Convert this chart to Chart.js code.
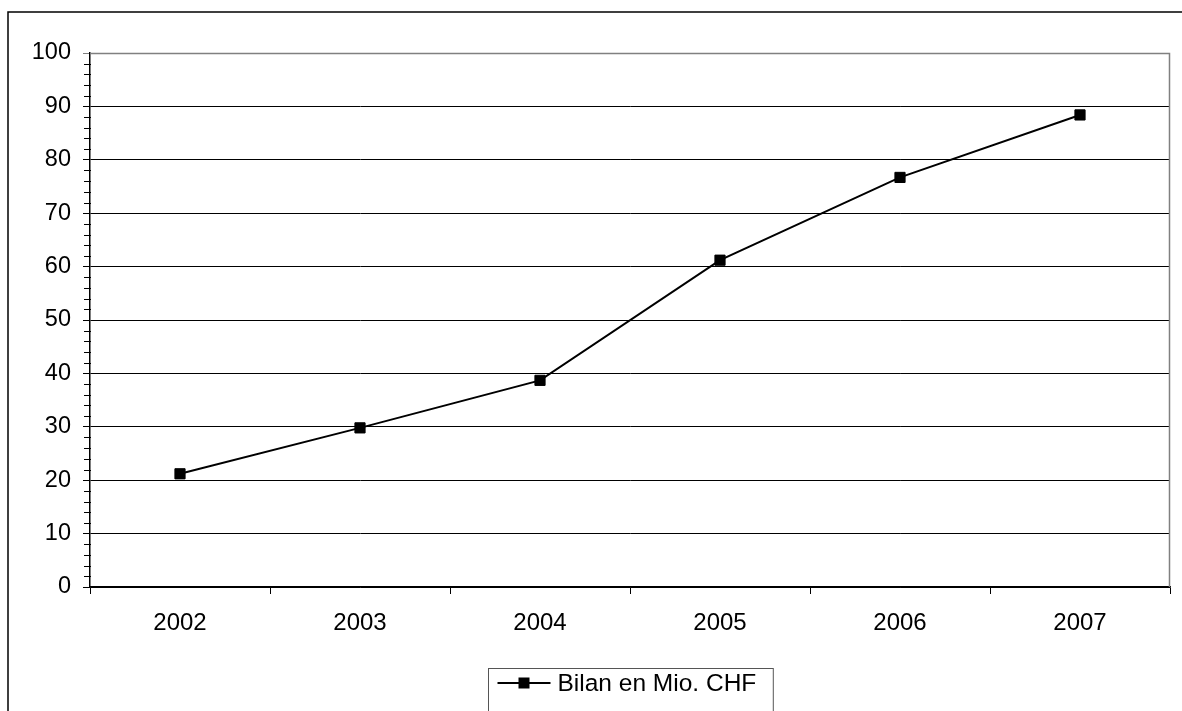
<!DOCTYPE html>
<html>
<head>
<meta charset="utf-8">
<script src="https://cdn.jsdelivr.net/npm/chart.js@4"></script>
<style>
  body { margin: 0; background: #fff; }
  canvas { display: block; }
</style>
</head>
<body>
<canvas id="myChart" width="1182" height="711"></canvas>
<script>
// Données du graphique
var years = ['2002', '2003', '2004', '2005', '2006', '2007'];
var bilan = [21.2, 29.8, 38.7, 61.2, 76.7, 88.4];
var seriesLabel = 'Bilan en Mio. CHF';
var yTicks = { min: 0, max: 100, step: 10, minorStep: 2 };

var fontFamily = '"Liberation Sans", Arial, sans-serif';

// Cadre extérieur, bord de la zone de tracé, petites graduations et légende
var excelLook = {
  id: 'excelLook',
  beforeDraw: function (chart) {
    var c = chart.ctx;
    c.save();
    c.fillStyle = '#fff';
    c.fillRect(0, 0, chart.width, chart.height);
    c.strokeStyle = '#000';
    c.lineWidth = 1.5;
    c.strokeRect(8, 12, chart.width + 20, chart.height + 20);
    c.restore();
  },
  beforeDatasetsDraw: function (chart) {
    var c = chart.ctx, a = chart.chartArea;
    c.save();
    c.strokeStyle = '#808080';
    c.lineWidth = 1.5;
    c.beginPath();
    c.moveTo(a.left, a.top + 0.5);
    c.lineTo(a.right - 0.5, a.top + 0.5);
    c.lineTo(a.right - 0.5, a.bottom);
    c.stroke();
    c.restore();
  },
  afterDraw: function (chart) {
    var c = chart.ctx, a = chart.chartArea, y = chart.scales.y;
    c.save();
    // petites graduations
    c.strokeStyle = '#000';
    c.lineWidth = 1;
    for (var v = yTicks.min; v <= yTicks.max; v += yTicks.minorStep) {
      if (v % yTicks.step === 0) continue;
      var py = Math.round(y.getPixelForValue(v)) + 0.5;
      c.beginPath();
      c.moveTo(a.left - 6, py);
      c.lineTo(a.left + 1, py);
      c.stroke();
    }
    // légende
    var ds = chart.data.datasets[0];
    c.font = '24.5px ' + fontFamily;
    var tw = c.measureText(ds.label).width;
    var padL = 9, sample = 53, gap = 7, padR = 17;
    var boxW = padL + sample + gap + tw + padR;
    var x0 = Math.round((a.left + a.right) / 2 - boxW / 2) + 0.5;
    var top = 668.5, cy = 683;
    c.fillStyle = '#fff';
    c.fillRect(x0, top, boxW, 80);
    c.strokeStyle = '#555';
    c.lineWidth = 1;
    c.strokeRect(x0, top, boxW, 80);
    c.strokeStyle = '#000';
    c.lineWidth = 2;
    c.beginPath();
    c.moveTo(x0 + padL, cy);
    c.lineTo(x0 + padL + sample, cy);
    c.stroke();
    c.fillStyle = '#000';
    c.fillRect(x0 + padL + sample / 2 - 5.5, cy - 5.5, 11, 11);
    c.textBaseline = 'middle';
    c.textAlign = 'left';
    c.fillText(ds.label, x0 + padL + sample + gap, cy + 1);
    c.restore();
  }
};

var ctx = document.getElementById('myChart').getContext('2d');

var myChart = new Chart(ctx, {
  type: 'line',
  data: {
    labels: years,
    datasets: [{
      label: seriesLabel,
      data: bilan,
      borderColor: '#000',
      borderWidth: 2,
      backgroundColor: '#000',
      pointStyle: 'rect',
      pointRadius: 7.2,
      pointBorderWidth: 1,
      pointBackgroundColor: '#000',
      pointBorderColor: '#000',
      tension: 0,
      fill: false
    }]
  },
  options: {
    responsive: false,
    animation: false,
    devicePixelRatio: 1,
    layout: { padding: { left: 0, top: 53, right: 12, bottom: 0 } },
    plugins: {
      legend: { display: false },
      tooltip: { enabled: false }
    },
    scales: {
      x: {
        type: 'category',
        offset: true,
        grid: {
          offset: true,
          drawOnChartArea: false,
          drawTicks: true,
          tickLength: 7,
          color: '#000'
        },
        border: { display: true, color: '#000', width: 1.5 },
        ticks: {
          color: '#000',
          padding: 15,
          maxRotation: 0,
          font: { family: fontFamily, size: 24 }
        },
        afterFit: function (scale) { scale.height = 124; }
      },
      y: {
        min: yTicks.min,
        max: yTicks.max,
        grid: {
          color: function (c) { return c.tick && c.tick.value === yTicks.max ? '#808080' : '#000'; },
          lineWidth: 1,
          tickLength: 7
        },
        border: { display: true, color: '#000', width: 1.5 },
        ticks: {
          stepSize: yTicks.step,
          color: '#000',
          padding: 12,
          font: { family: fontFamily, size: 23.5 }
        },
        afterFit: function (scale) { scale.width = 90; }
      }
    }
  },
  plugins: [excelLook]
});
</script>
</body>
</html>
